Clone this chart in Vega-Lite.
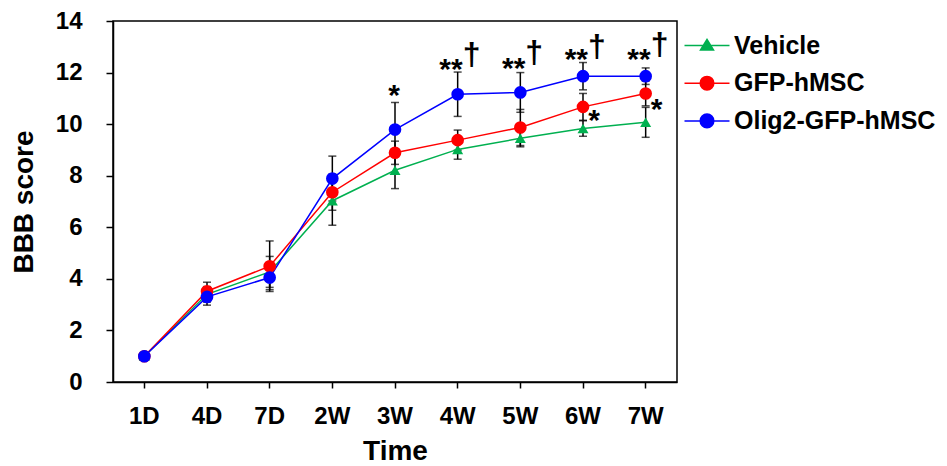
{
  "$schema": "https://vega.github.io/schema/vega-lite/v6.json",
  "width": 564,
  "height": 361,
  "autosize": {"type": "none"},
  "padding": {"left": 113, "top": 21, "right": 270, "bottom": 84},
  "background": "white",
  "datasets": {
    "main": [
      {"time": "1D", "group": "Vehicle", "mean": 1.0, "err": 0},
      {"time": "4D", "group": "Vehicle", "mean": 3.4, "err": 0.3},
      {"time": "7D", "group": "Vehicle", "mean": 4.27, "err": 0.6},
      {"time": "2W", "group": "Vehicle", "mean": 7.03, "err": 0.95},
      {"time": "3W", "group": "Vehicle", "mean": 8.21, "err": 0.71},
      {"time": "4W", "group": "Vehicle", "mean": 9.02, "err": 0.38},
      {"time": "5W", "group": "Vehicle", "mean": 9.45, "err": 0.33},
      {"time": "6W", "group": "Vehicle", "mean": 9.83, "err": 0.3},
      {"time": "7W", "group": "Vehicle", "mean": 10.07, "err": 0.58},
      {"time": "1D", "group": "GFP-hMSC", "mean": 1.0, "err": 0},
      {"time": "4D", "group": "GFP-hMSC", "mean": 3.52, "err": 0.35},
      {"time": "7D", "group": "GFP-hMSC", "mean": 4.49, "err": 0.98},
      {"time": "2W", "group": "GFP-hMSC", "mean": 7.36, "err": 0.7},
      {"time": "3W", "group": "GFP-hMSC", "mean": 8.89, "err": 0.45},
      {"time": "4W", "group": "GFP-hMSC", "mean": 9.38, "err": 0.39},
      {"time": "5W", "group": "GFP-hMSC", "mean": 9.87, "err": 0.7},
      {"time": "6W", "group": "GFP-hMSC", "mean": 10.67, "err": 0.52},
      {"time": "7W", "group": "GFP-hMSC", "mean": 11.19, "err": 0.48},
      {"time": "1D", "group": "Olig2-GFP-hMSC", "mean": 1.0, "err": 0},
      {"time": "4D", "group": "Olig2-GFP-hMSC", "mean": 3.3, "err": 0.32},
      {"time": "7D", "group": "Olig2-GFP-hMSC", "mean": 4.05, "err": 0.47},
      {"time": "2W", "group": "Olig2-GFP-hMSC", "mean": 7.89, "err": 0.87},
      {"time": "3W", "group": "Olig2-GFP-hMSC", "mean": 9.79, "err": 1.05},
      {"time": "4W", "group": "Olig2-GFP-hMSC", "mean": 11.16, "err": 0.86},
      {"time": "5W", "group": "Olig2-GFP-hMSC", "mean": 11.23, "err": 0.77},
      {"time": "6W", "group": "Olig2-GFP-hMSC", "mean": 11.86, "err": 0.53},
      {"time": "7W", "group": "Olig2-GFP-hMSC", "mean": 11.86, "err": 0.32}
    ],
    "notes": [
      {"time": "3W", "y": 11.39, "label": "*", "kind": "above"},
      {"time": "4W", "y": 12.41, "label": "**", "kind": "above"},
      {"time": "5W", "y": 12.45, "label": "**", "kind": "above"},
      {"time": "6W", "y": 12.79, "label": "**", "kind": "above"},
      {"time": "7W", "y": 12.79, "label": "**", "kind": "above"},
      {"time": "4W", "y": 12.64, "label": "†", "kind": "dagger"},
      {"time": "5W", "y": 12.72, "label": "†", "kind": "dagger"},
      {"time": "6W", "y": 12.97, "label": "†", "kind": "dagger"},
      {"time": "7W", "y": 13.03, "label": "†", "kind": "dagger"},
      {"time": "6W", "y": 10.42, "label": "*", "kind": "side"},
      {"time": "7W", "y": 10.87, "label": "*", "kind": "side"}
    ]
  },
  "layer": [
    {
      "data": {"name": "main"},
      "mark": {"type": "errorbar", "color": "black", "ticks": {"size": 8, "thickness": 1.5, "color": "black"}, "rule": {"strokeWidth": 1.5, "color": "black"}},
      "encoding": {
        "x": {"field": "time", "type": "nominal", "sort": ["1D","4D","7D","2W","3W","4W","5W","6W","7W"], "scale": {"domain": ["1D","4D","7D","2W","3W","4W","5W","6W","7W"]}, "title": "Time"},
        "y": {"field": "mean", "type": "quantitative", "scale": {"domain": [0, 14]}, "title": "BBB score", "axis": {"values": [0, 2, 4, 6, 8, 10, 12, 14]}},
        "yError": {"field": "err"}
      }
    },
    {
      "data": {"name": "main"},
      "mark": {"type": "line", "strokeWidth": 1.5},
      "encoding": {
        "x": {"field": "time", "type": "nominal", "sort": ["1D","4D","7D","2W","3W","4W","5W","6W","7W"]},
        "y": {"field": "mean", "type": "quantitative"},
        "stroke": {"field": "group", "type": "nominal", "scale": {"domain": ["Vehicle","GFP-hMSC","Olig2-GFP-hMSC"], "range": ["#00B050","#FF0000","#0000FF"]}, "legend": {"title": null}},
        "detail": {"field": "group"}
      }
    },
    {
      "data": {"name": "main"},
      "transform": [{"filter": "datum.group === 'Vehicle'"}],
      "mark": {"type": "point", "shape": "triangle-up", "filled": true, "size": 121, "opacity": 1, "strokeWidth": 0},
      "encoding": {
        "x": {"field": "time", "type": "nominal", "sort": ["1D","4D","7D","2W","3W","4W","5W","6W","7W"]},
        "y": {"field": "mean", "type": "quantitative"},
        "fill": {"field": "group", "type": "nominal", "scale": {"domain": ["Vehicle","GFP-hMSC","Olig2-GFP-hMSC"], "range": ["#00B050","#FF0000","#0000FF"]}, "legend": {"title": null}}
      }
    },
    {
      "data": {"name": "main"},
      "transform": [{"filter": "datum.group !== 'Vehicle'"}],
      "mark": {"type": "point", "shape": "circle", "filled": true, "size": 160, "opacity": 1, "strokeWidth": 0},
      "encoding": {
        "x": {"field": "time", "type": "nominal", "sort": ["1D","4D","7D","2W","3W","4W","5W","6W","7W"]},
        "y": {"field": "mean", "type": "quantitative"},
        "fill": {"field": "group", "type": "nominal", "legend": {"title": null}}
      }
    },
    {
      "data": {"name": "main"},
      "transform": [{"filter": "false"}],
      "mark": {"type": "point", "filled": true, "opacity": 1, "strokeWidth": 1.5},
      "encoding": {
        "fill": {"field": "group", "type": "nominal", "legend": {"title": null}},
        "stroke": {"field": "group", "type": "nominal", "legend": {"title": null}},
        "shape": {"field": "group", "type": "nominal", "scale": {"domain": ["Vehicle","GFP-hMSC","Olig2-GFP-hMSC"], "range": ["M-2.25,0H2.25M0,-0.6L0.65,0.45L-0.65,0.45Z", "M-2.25,0H2.25M0.68,0A0.68,0.68,0,1,1,-0.68,0A0.68,0.68,0,1,1,0.68,0Z", "M-2.25,0H2.25M0.68,0A0.68,0.68,0,1,1,-0.68,0A0.68,0.68,0,1,1,0.68,0Z"]}, "legend": {"title": null}}
      }
    },
    {
      "data": {"name": "notes"},
      "transform": [{"filter": "datum.kind === 'above'"}],
      "mark": {"type": "text", "fontSize": 30, "fontWeight": "bold", "font": "Liberation Sans", "baseline": "alphabetic", "align": "right", "dx": 5, "dy": 17, "color": "black"},
      "encoding": {
        "x": {"field": "time", "type": "nominal", "sort": ["1D","4D","7D","2W","3W","4W","5W","6W","7W"]},
        "y": {"field": "y", "type": "quantitative"},
        "text": {"field": "label"}
      }
    },
    {
      "data": {"name": "notes"},
      "transform": [{"filter": "datum.kind === 'dagger'"}],
      "mark": {"type": "text", "fontSize": 32, "fontWeight": "bold", "font": "Liberation Sans", "baseline": "alphabetic", "align": "left", "dx": 5, "dy": 9, "color": "black"},
      "encoding": {
        "x": {"field": "time", "type": "nominal", "sort": ["1D","4D","7D","2W","3W","4W","5W","6W","7W"]},
        "y": {"field": "y", "type": "quantitative"},
        "text": {"field": "label"}
      }
    },
    {
      "data": {"name": "notes"},
      "transform": [{"filter": "datum.kind === 'side'"}],
      "mark": {"type": "text", "fontSize": 30, "fontWeight": "bold", "font": "Liberation Sans", "baseline": "alphabetic", "align": "center", "dx": 11, "dy": 17, "color": "black"},
      "encoding": {
        "x": {"field": "time", "type": "nominal", "sort": ["1D","4D","7D","2W","3W","4W","5W","6W","7W"]},
        "y": {"field": "y", "type": "quantitative"},
        "text": {"field": "label"}
      }
    }
  ],
  "config": {
    "font": "Liberation Sans",
    "view": {"stroke": "black", "strokeWidth": 1.5},
    "axis": {
      "grid": false,
      "domainColor": "black",
      "domainWidth": 1.5,
      "tickColor": "black",
      "tickWidth": 1.5,
      "labelColor": "black",
      "labelFont": "Liberation Sans",
      "labelFontSize": 24,
      "labelFontWeight": "bold",
      "titleColor": "black",
      "titleFont": "Liberation Sans",
      "titleFontSize": 28,
      "titleFontWeight": "bold"
    },
    "axisX": {
      "labelAngle": 0,
      "tickSize": 6,
      "labelBaseline": "alphabetic",
      "labelPadding": 35,
      "titleY": 77,
      "titleBaseline": "alphabetic"
    },
    "axisY": {
      "tickSize": 7,
      "labelPadding": 24,
      "titleAngle": 270,
      "titleX": -81,
      "titleY": 180.5,
      "titleAlign": "center",
      "titleBaseline": "alphabetic"
    },
    "legend": {
      "orient": "none",
      "legendX": 569,
      "legendY": 12,
      "padding": 0,
      "labelFont": "Liberation Sans",
      "labelFontSize": 25,
      "labelFontWeight": "bold",
      "labelColor": "black",
      "labelLimit": 0,
      "symbolSize": 400,
      "symbolStrokeWidth": 1.5,
      "symbolOffset": 12.5,
      "labelOffset": 14.5,
      "rowPadding": 11.7,
      "symbolOpacity": 1
    }
  }
}
